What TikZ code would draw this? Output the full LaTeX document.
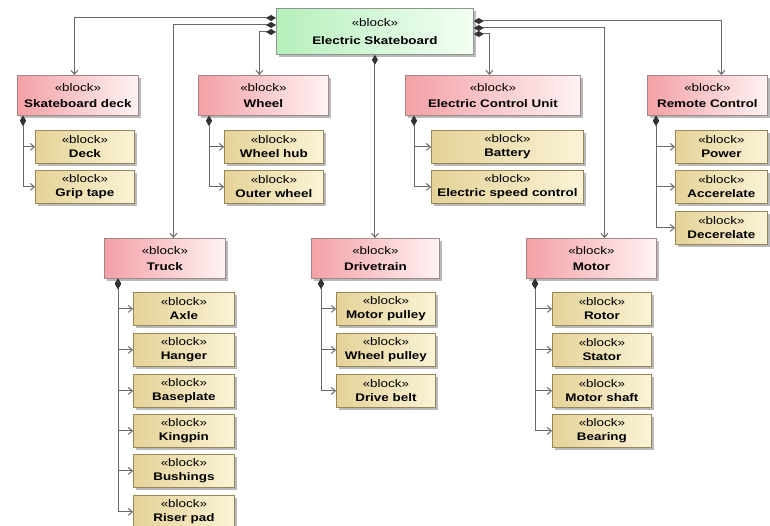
\documentclass[tikz,border=0pt]{standalone}
\usepackage{fontspec}
\setmainfont{Liberation Sans}[FakeStretch=1.22]
\usetikzlibrary{arrows.meta,shadows}

\definecolor{pinkL}{HTML}{F4A0A6}
\definecolor{pinkR}{HTML}{FFF3F3}
\definecolor{pinkB}{HTML}{A08888}
\definecolor{greenL}{HTML}{B6EFBC}
\definecolor{greenR}{HTML}{F3FFF3}
\definecolor{greenB}{HTML}{8C968C}
\definecolor{tanL}{HTML}{E4D297}
\definecolor{tanR}{HTML}{FBF3D6}
\definecolor{tanB}{HTML}{968658}
\definecolor{lineC}{HTML}{6A6A6A}
\definecolor{diaC}{HTML}{333333}

\tikzset{
  box/.style={anchor=north west, align=center, inner sep=0pt, line width=0.8pt,
    drop shadow={shadow xshift=2.5pt, shadow yshift=-2.5pt, fill=black!55, opacity=0.5}},
  rootbox/.style={box, draw=greenB, left color=greenL, right color=greenR,
    font=\fontsize{11}{18}\selectfont},
  partbox/.style={box, draw=pinkB, left color=pinkL, right color=pinkR,
    minimum height=40pt, font=\fontsize{11}{16}\selectfont},
  leafbox/.style={box, draw=tanB, left color=tanL, right color=tanR,
    minimum height=33pt, font=\fontsize{11}{14}\selectfont},
  link/.style={draw=lineC, line width=1pt,
    {Diamond[length=10pt, width=6pt, color=diaC, fill=diaC]}-{Straight Barb[length=4pt, width=7pt, color=lineC]}},
}
\newcommand{\blk}[1]{«block»\\\textbf{#1}}

\begin{document}
\begin{tikzpicture}[x=1pt, y=-1pt]
\useasboundingbox (0,0) rectangle (770,526);

% system block
\node[rootbox, minimum width=197pt, minimum height=46pt] (root) at (276,8) {\blk{Electric Skateboard}};

% subsystems
\node[partbox, minimum width=121pt] (sd)  at (17,75)   {\blk{Skateboard deck}};
\node[partbox, minimum width=130pt] (wh)  at (198,75)  {\blk{Wheel}};
\node[partbox, minimum width=175pt] (ecu) at (405,75)  {\blk{Electric Control Unit}};
\node[partbox, minimum width=120pt] (rc)  at (647,75)  {\blk{Remote Control}};
\node[partbox, minimum width=121pt] (tr)  at (104,238) {\blk{Truck}};
\node[partbox, minimum width=128pt] (dt)  at (311,238) {\blk{Drivetrain}};
\node[partbox, minimum width=130pt] (mo)  at (526,238) {\blk{Motor}};

% components
\node[leafbox, minimum width=99pt]  (deck)  at (35,130)  {\blk{Deck}};
\node[leafbox, minimum width=99pt]  (grip)  at (35,170)  {\blk{Grip tape}};
\node[leafbox, minimum width=99pt]  (hub)   at (224,130) {\blk{Wheel hub}};
\node[leafbox, minimum width=99pt]  (outer) at (224,170) {\blk{Outer wheel}};
\node[leafbox, minimum width=152pt] (bat)   at (431,130) {\blk{Battery}};
\node[leafbox, minimum width=152pt] (esc)   at (431,170) {\blk{Electric speed control}};
\node[leafbox, minimum width=92pt]  (pow)   at (675,130) {\blk{Power}};
\node[leafbox, minimum width=92pt]  (acc)   at (675,170) {\blk{Accerelate}};
\node[leafbox, minimum width=92pt]  (dec)   at (675,211) {\blk{Decerelate}};

\node[leafbox, minimum width=101pt] (axle)   at (133,292) {\blk{Axle}};
\node[leafbox, minimum width=101pt] (hanger) at (133,333) {\blk{Hanger}};
\node[leafbox, minimum width=101pt] (base)   at (133,374) {\blk{Baseplate}};
\node[leafbox, minimum width=101pt] (king)   at (133,414) {\blk{Kingpin}};
\node[leafbox, minimum width=101pt] (bush)   at (133,454) {\blk{Bushings}};
\node[leafbox, minimum width=101pt] (riser)  at (133,495) {\blk{Riser pad}};

\node[leafbox, minimum width=99pt] (mp) at (336,292) {\blk{Motor pulley}};
\node[leafbox, minimum width=99pt] (wp) at (336,333) {\blk{Wheel pulley}};
\node[leafbox, minimum width=99pt] (db) at (336,374) {\blk{Drive belt}};

\node[leafbox, minimum width=99pt] (rot) at (552,292) {\blk{Rotor}};
\node[leafbox, minimum width=99pt] (sta) at (552,333) {\blk{Stator}};
\node[leafbox, minimum width=99pt] (msh) at (552,374) {\blk{Motor shaft}};
\node[leafbox, minimum width=99pt] (bea) at (552,414) {\blk{Bearing}};

% system -> subsystems
\draw[link] ([yshift=-10pt]root.north west) -| ([xshift=-3.5pt]sd.north);
\draw[link] ([yshift=-17pt]root.north west) -| ([xshift=8.5pt]tr.north);
\draw[link] ([yshift=-24pt]root.north west) -| ([xshift=-4pt]wh.north);
\draw[link] ([yshift=-13pt]root.north east) -| ([xshift=14pt]rc.north);
\draw[link] ([yshift=-20pt]root.north east) -| ([xshift=13pt]mo.north);
\draw[link] ([yshift=-26pt]root.north east) -| ([xshift=-3.5pt]ecu.north);
\draw[link] (root.south) -- (root.south |- dt.north);

% subsystems -> components
\foreach \c in {deck,grip}
  \draw[link] ([xshift=6pt]sd.south west) |- (\c.west);
\foreach \c in {hub,outer}
  \draw[link] ([xshift=11pt]wh.south west) |- (\c.west);
\foreach \c in {bat,esc}
  \draw[link] ([xshift=9pt]ecu.south west) |- (\c.west);
\foreach \c in {pow,acc,dec}
  \draw[link] ([xshift=9pt]rc.south west) |- (\c.west);
\foreach \c in {axle,hanger,base,king,bush,riser}
  \draw[link] ([xshift=14pt]tr.south west) |- (\c.west);
\foreach \c in {mp,wp,db}
  \draw[link] ([xshift=10pt]dt.south west) |- (\c.west);
\foreach \c in {rot,sta,msh,bea}
  \draw[link] ([xshift=9pt]mo.south west) |- (\c.west);
\end{tikzpicture}
\end{document}
